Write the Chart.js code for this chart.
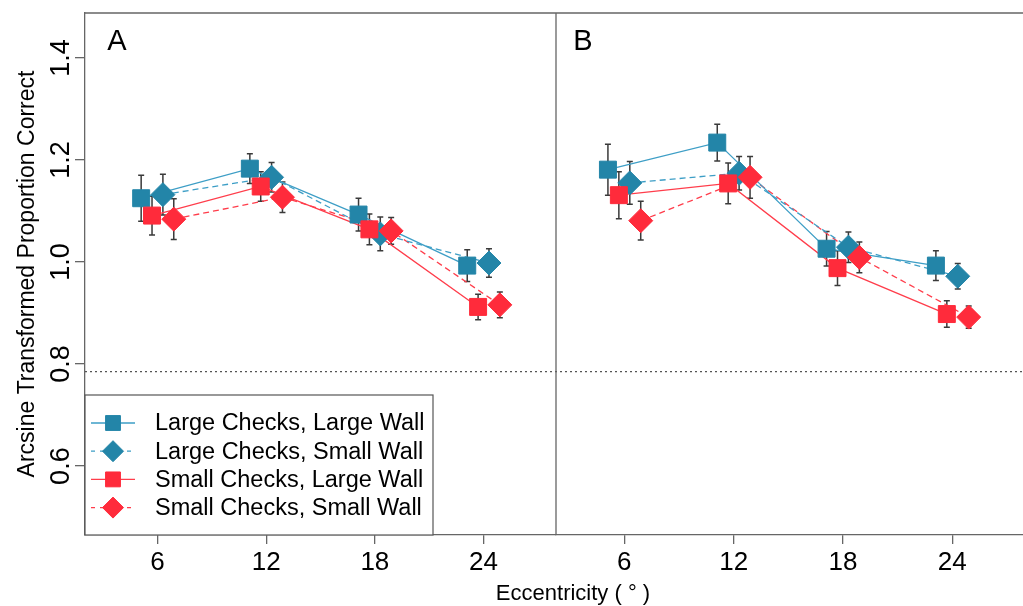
<!DOCTYPE html>
<html>
<head>
<meta charset="utf-8">
<script src="https://cdn.jsdelivr.net/npm/chart.js@4.4.1/dist/chart.umd.min.js"></script>
<style>
  html, body { margin: 0; padding: 0; overflow: hidden; background: #fff; }
  #wrap { position: absolute; left: 0; top: 0; width: 1040px; height: 606px; }
</style>
</head>
<body>
<div id="wrap"><canvas id="eccChart" width="1040" height="606"></canvas></div>
<script>
// ---- data ----
const eccentricities = [6, 12, 18, 24];
const seriesLabels = [
  'Large Checks, Large Wall',
  'Large Checks, Small Wall',
  'Small Checks, Large Wall',
  'Small Checks, Small Wall'
];
// horizontal dodge of each series around the eccentricity (legend order)
const dodge = [-0.9, 0.3, -0.3, 0.9];

// panel A: one row per series, one value per eccentricity
const meansA = [
  [1.125, 1.183, 1.093, 0.993],
  [1.132, 1.166, 1.055, 0.998],
  [1.091, 1.148, 1.064, 0.912],
  [1.084, 1.127, 1.061, 0.916]
];
const errorsA = [
  [0.045, 0.029, 0.032, 0.031],
  [0.040, 0.029, 0.033, 0.028],
  [0.038, 0.029, 0.030, 0.025],
  [0.040, 0.030, 0.026, 0.025]
];
// panel B
const meansB = [
  [1.181, 1.234, 1.026, 0.993],
  [1.155, 1.174, 1.029, 0.972],
  [1.131, 1.154, 0.988, 0.898],
  [1.081, 1.166, 1.009, 0.892]
];
const errorsB = [
  [0.050, 0.036, 0.034, 0.029],
  [0.042, 0.033, 0.030, 0.025],
  [0.046, 0.040, 0.034, 0.026],
  [0.038, 0.041, 0.030, 0.022]
];
const yTicks = [0.6, 0.8, 1.0, 1.2, 1.4];
const chanceLevel = 0.785;

// ---- styles ----
const FONT = "'Liberation Sans', Arial, Helvetica, sans-serif";
const markerColors = ['#2385a8', '#2385a8', '#ff2b3b', '#ff2b3b'];
const lineColors = ['#3d9ec6', '#3d9ec6', '#ff3d4b', '#ff3d4b'];
const dashes = [[], [6, 4], [], [6, 4]];
const shapes = ['rect', 'rectRot', 'rect', 'rectRot'];
const radii = [12, 12, 12, 12];
const frameColor = '#666';

const datasets = [];
[['xA', meansA, errorsA], ['xB', meansB, errorsB]].forEach(([axis, means, errs]) => {
  means.forEach((vals, s) => {
    const pts = vals.map((v, i) => ({ x: eccentricities[i] + dodge[s], y: v, err: errs[s][i] }));
    // connecting line, kept under all markers
    datasets.push({
      label: seriesLabels[s],
      data: pts,
      xAxisID: axis,
      yAxisID: 'y',
      borderColor: lineColors[s],
      borderWidth: 1.3,
      borderDash: dashes[s],
      pointRadius: 0,
      fill: false,
      order: 10
    });
    // markers with error bars
    datasets.push({
      label: seriesLabels[s],
      data: pts,
      xAxisID: axis,
      yAxisID: 'y',
      showLine: false,
      pointStyle: shapes[s],
      pointRadius: radii[s],
      pointBackgroundColor: markerColors[s],
      pointBorderColor: markerColors[s],
      pointBorderWidth: 1,
      order: 4 - s,
      errorBars: true
    });
  });
});

// error bars, dotted chance line and frame pieces
const framePlugin = {
  id: 'frame',
  beforeDatasetsDraw(chart) {
    const { ctx, chartArea } = chart;
    const y = chart.scales.y;
    ctx.save();
    // chance level
    ctx.strokeStyle = '#555';
    ctx.lineWidth = 1.2;
    ctx.setLineDash([2, 3]);
    const yc = y.getPixelForValue(chanceLevel);
    ctx.beginPath();
    ctx.moveTo(chartArea.left, yc);
    ctx.lineTo(chartArea.right, yc);
    ctx.stroke();
    ctx.setLineDash([]);
    // top border and panel divider
    ctx.strokeStyle = frameColor;
    ctx.lineWidth = 1.3;
    ctx.beginPath();
    ctx.moveTo(chartArea.left, chartArea.top);
    ctx.lineTo(chartArea.right, chartArea.top);
    const xd = chart.scales.xB.left;
    ctx.moveTo(xd, chartArea.top);
    ctx.lineTo(xd, chartArea.bottom);
    ctx.stroke();
    // error bars
    ctx.strokeStyle = '#3a3a3a';
    ctx.lineWidth = 1.5;
    chart.data.datasets.forEach((ds, di) => {
      if (!ds.errorBars) return;
      chart.getDatasetMeta(di).data.forEach((pt, i) => {
        const d = ds.data[i];
        const top = y.getPixelForValue(d.y + d.err);
        const bot = y.getPixelForValue(d.y - d.err);
        ctx.beginPath();
        ctx.moveTo(pt.x, top); ctx.lineTo(pt.x, bot);
        ctx.moveTo(pt.x - 3, top); ctx.lineTo(pt.x + 3, top);
        ctx.moveTo(pt.x - 3, bot); ctx.lineTo(pt.x + 3, bot);
        ctx.stroke();
      });
    });
    ctx.restore();
  },
  afterDraw(chart) {
    const { ctx, chartArea } = chart;
    const xA = chart.scales.xA, xB = chart.scales.xB;
    ctx.save();
    // panel letters
    ctx.fillStyle = '#000';
    ctx.font = '29px ' + FONT;
    ctx.textAlign = 'center';
    ctx.textBaseline = 'middle';
    ctx.fillText('A', xA.left + 32, chartArea.top + 29);
    ctx.fillText('B', xB.left + 27, chartArea.top + 29);
    // x axis title
    ctx.font = '22px ' + FONT;
    ctx.fillText('Eccentricity ( \u00b0 )', 573, 594);

    // legend box in panel A
    const bx = chartArea.left, by = 395, bw = 348, bh = chartArea.bottom - by;
    ctx.fillStyle = '#fff';
    ctx.fillRect(bx, by, bw, bh);
    ctx.strokeStyle = '#555';
    ctx.lineWidth = 1.2;
    ctx.strokeRect(bx, by, bw, bh);
    seriesLabels.forEach((label, s) => {
      const ry = 423 + s * 28.2;
      ctx.strokeStyle = lineColors[s];
      ctx.lineWidth = 1.3;
      ctx.setLineDash(dashes[s].length ? [4, 5] : []);
      ctx.beginPath();
      ctx.moveTo(bx + 6, ry);
      ctx.lineTo(bx + 50, ry);
      ctx.stroke();
      ctx.setLineDash([]);
      ctx.fillStyle = markerColors[s];
      ctx.strokeStyle = markerColors[s];
      ctx.lineWidth = 1;
      Chart.helpers.drawPoint(ctx, { pointStyle: shapes[s], radius: radii[s] - 1.5, borderWidth: 1, rotation: 0 }, bx + 28, ry);
      ctx.fillStyle = '#000';
      ctx.font = '23.5px ' + FONT;
      ctx.textAlign = 'left';
      ctx.fillText(label, bx + 70, ry + 1);
    });
    ctx.restore();
  }
};

function xScale(min, max) {
  return {
    type: 'linear',
    position: 'bottom',
    stack: 'panels',
    stackWeight: 1,
    min: min,
    max: max,
    afterBuildTicks: s => { s.ticks = eccentricities.map(v => ({ value: v })); },
    afterFit: s => { s.height = 71; },
    grid: { display: true, drawOnChartArea: false, drawTicks: true, tickLength: 9, color: frameColor, lineWidth: 1.3 },
    border: { display: true, color: frameColor, width: 1.3 },
    ticks: { color: '#000', font: { family: FONT, size: 26 }, padding: 3, maxRotation: 0 }
  };
}

new Chart(document.getElementById('eccChart'), {
  type: 'line',
  data: { datasets: datasets },
  options: {
    responsive: false,
    animation: false,
    devicePixelRatio: 1,
    layout: { padding: { left: 0, top: 12, right: 3, bottom: 0 } },
    plugins: { legend: { display: false }, tooltip: { enabled: false }, title: { display: false } },
    scales: {
      xA: xScale(2, 28),
      xB: xScale(2.25, 28.1),
      y: {
        type: 'linear',
        position: 'left',
        min: 0.465,
        max: 1.488,
        afterBuildTicks: s => { s.ticks = yTicks.map(v => ({ value: v })); },
        afterFit: s => { s.width = 85; },
        grid: { display: true, drawOnChartArea: false, drawTicks: true, tickLength: 10, color: frameColor, lineWidth: 1.3 },
        border: { display: true, color: frameColor, width: 1.3 },
        ticks: {
          color: '#000',
          font: { family: FONT, size: 27 },
          minRotation: 90,
          maxRotation: 90,
          crossAlign: 'center',
          padding: -5,
          callback: v => v.toFixed(1)
        },
        title: {
          display: true,
          text: 'Arcsine Transformed Proportion Correct',
          color: '#000',
          font: { family: FONT, size: 23 },
          padding: { top: 14, bottom: 0 }
        }
      }
    }
  },
  plugins: [framePlugin]
});
</script>
</body>
</html>
